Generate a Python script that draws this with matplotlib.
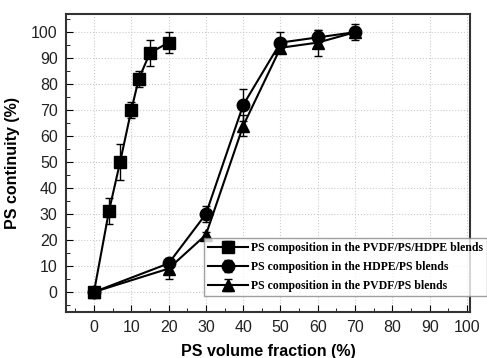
import matplotlib
matplotlib.use("Agg")
import matplotlib.pyplot as plt
from matplotlib.ticker import MultipleLocator

plt.rcParams["font.family"] = ["Liberation Sans", "DejaVu Sans"]

# PS continuity data (%)
x_ternary = [0, 4, 7, 10, 12, 15, 20]
y_ternary = [0, 31, 50, 70, 82, 92, 96]
e_ternary = [0, 5, 7, 3, 3, 5, 4]

x_hdpe = [0, 20, 30, 40, 50, 60, 70]
y_hdpe = [0, 11, 30, 72, 96, 98, 100]
e_hdpe = [0, 1, 3, 6, 4, 3, 3]

x_pvdf = [0, 20, 30, 40, 50, 60, 70]
y_pvdf = [0, 9, 22, 64, 94, 96, 100]
e_pvdf = [0, 4, 1, 4, 2, 5, 2]

labels = [
    "PS composition in the PVDF/PS/HDPE blends",
    "PS composition in the HDPE/PS blends",
    "PS composition in the PVDF/PS blends",
]

fig = plt.figure(figsize=(4.87, 3.58), dpi=100)
ax = fig.add_axes([66 / 487, 1 - 312 / 358, (470 - 66) / 487, (312 - 14) / 358])

kw = dict(color="black", lw=1.5, capsize=3, elinewidth=1.0, capthick=1.0, markersize=9)
h1 = ax.errorbar(x_ternary, y_ternary, yerr=e_ternary, marker="s", **kw)
h2 = ax.errorbar(x_hdpe, y_hdpe, yerr=e_hdpe, marker="o", **kw)
h3 = ax.errorbar(x_pvdf, y_pvdf, yerr=e_pvdf, marker="^", **kw)

ax.set_xlim(-7.5, 100.8)
ax.set_ylim(-7.7, 107)
ax.xaxis.set_major_locator(MultipleLocator(10))
ax.xaxis.set_minor_locator(MultipleLocator(5))
ax.yaxis.set_major_locator(MultipleLocator(10))
ax.yaxis.set_minor_locator(MultipleLocator(5))
ax.tick_params(which="both", direction="in", top=False, right=False,
               labelsize=11.5, labelcolor="#222222")
ax.tick_params(which="major", length=5, pad=6)
ax.tick_params(which="minor", length=3)
ax.grid(True, which="major", ls=":", color="#cccccc", lw=0.8)
for s in ax.spines.values():
    s.set_linewidth(1.5)
    s.set_color("#333333")

ax.set_xlabel("PS volume fraction (%)", fontsize=11.5, fontweight="bold", labelpad=6)
ax.set_ylabel("PS continuity (%)", fontsize=11.5, fontweight="bold", labelpad=8)

leg = fig.legend([h1, h2, h3], labels, loc="lower left",
                 bbox_to_anchor=(204 / 487, 1 - 296 / 358),
                 prop={"family": "Liberation Serif", "weight": "bold", "size": 8.5},
                 frameon=True, fancybox=False, edgecolor="#888888",
                 handlelength=3.4, handletextpad=0.2, borderpad=0.35,
                 labelspacing=0.6, borderaxespad=0)
leg.get_frame().set_linewidth(1.0)

fig.savefig("out.png", dpi=100)
